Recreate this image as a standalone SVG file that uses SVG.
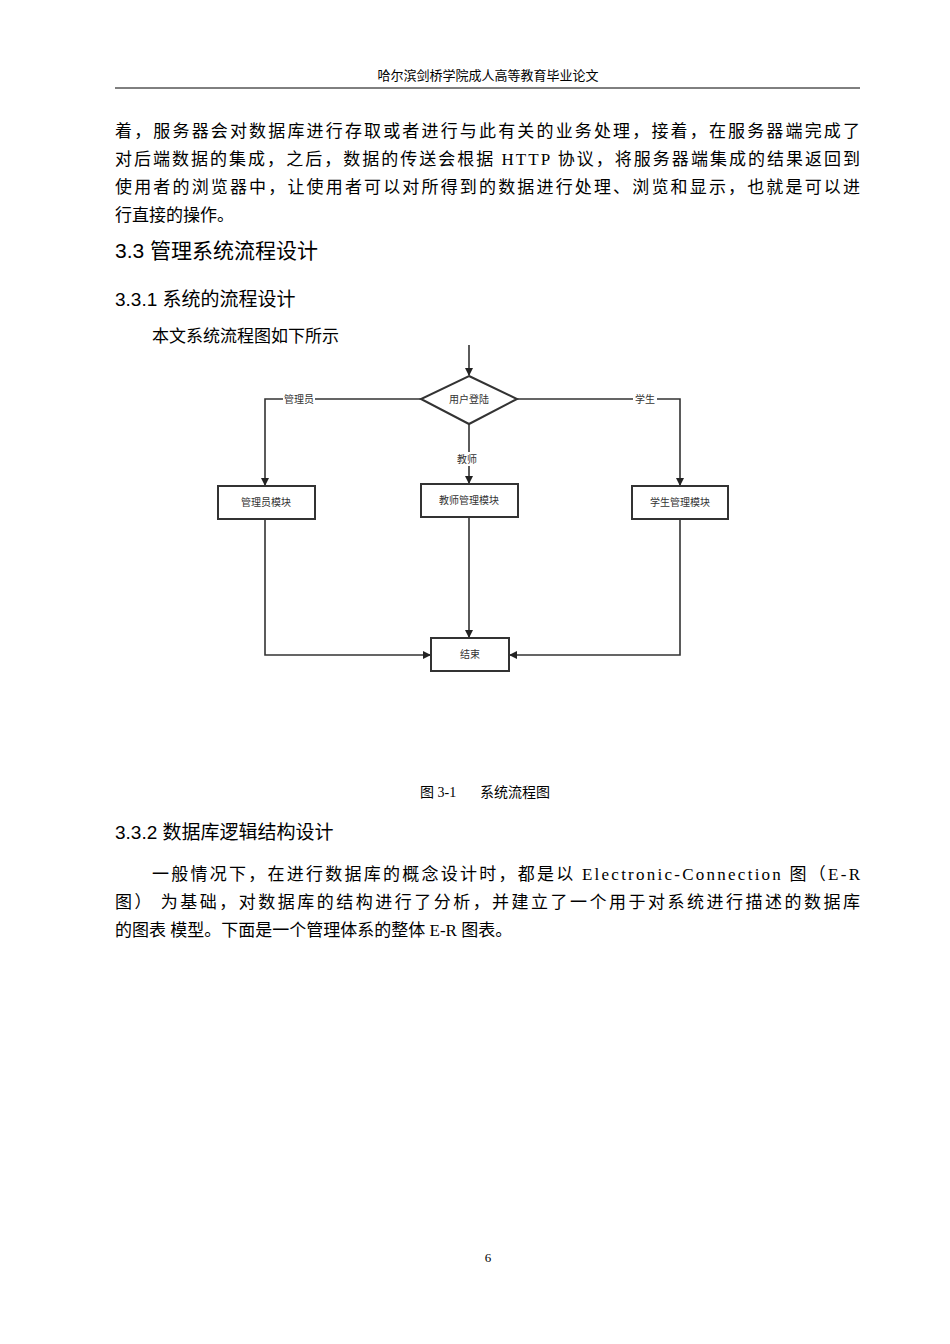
<svg xmlns="http://www.w3.org/2000/svg" width="950" height="1344" viewBox="0 0 950 1344">
<style>
.b{font-family:"Liberation Serif","Noto Sans CJK SC",serif;font-size:17px;fill:#000}
.h{font-family:"Liberation Sans","Noto Sans CJK SC",sans-serif;fill:#000}
.s{font-family:"Noto Sans CJK SC",sans-serif;font-size:10px;fill:#333}
.n{fill:#fff;stroke:#333;stroke-width:2}
.c{fill:none;stroke:#333;stroke-width:1.6}
</style>
<defs><marker id="a" markerWidth="8" markerHeight="8" refX="7" refY="4" orient="auto" markerUnits="userSpaceOnUse"><path d="M0,0 L8,4 L0,8 z" fill="#222"/></marker></defs>
<rect width="950" height="1344" fill="#fff"/>
<text class="b" x="488" y="80" text-anchor="middle" style="font-size:13px">哈尔滨剑桥学院成人高等教育毕业论文</text>
<line x1="115" y1="88" x2="860" y2="88" stroke="#000" stroke-width="1"/>
<text class="b" x="115" y="137" textLength="745" lengthAdjust="spacing">着，服务器会对数据库进行存取或者进行与此有关的业务处理，接着，在服务器端完成了</text>
<text class="b" x="115" y="165" textLength="745" lengthAdjust="spacing">对后端数据的集成，之后，数据的传送会根据 HTTP 协议，将服务器端集成的结果返回到</text>
<text class="b" x="115" y="193" textLength="745" lengthAdjust="spacing">使用者的浏览器中，让使用者可以对所得到的数据进行处理、浏览和显示，也就是可以进</text>
<text class="b" x="115" y="221">行直接的操作。</text>
<text class="h" x="115" y="258" style="font-size:21px">3.3 管理系统流程设计</text>
<text class="h" x="115" y="306" style="font-size:19px">3.3.1  系统的流程设计</text>
<text class="b" x="152" y="342">本文系统流程图如下所示</text>
<g id="connectors">
<line class="c" x1="469" y1="345" x2="469" y2="375" marker-end="url(#a)"/>
<polyline class="c" points="421,399 265,399 265,485" marker-end="url(#a)"/>
<polyline class="c" points="517,399 680,399 680,485" marker-end="url(#a)"/>
<line class="c" x1="469" y1="424" x2="469" y2="483" marker-end="url(#a)"/>
<polyline class="c" points="265,519 265,655 430,655" marker-end="url(#a)"/>
<polyline class="c" points="680,519 680,655 510,655" marker-end="url(#a)"/>
<line class="c" x1="469" y1="517" x2="469" y2="637" marker-end="url(#a)"/>
<rect x="283" y="392" width="32" height="14" fill="#fff"/><text class="s" x="299" y="403" text-anchor="middle">管理员</text>
<rect x="633" y="392" width="24" height="14" fill="#fff"/><text class="s" x="645" y="403" text-anchor="middle">学生</text>
<rect x="455" y="452" width="24" height="14" fill="#fff"/><text class="s" x="467" y="463" text-anchor="middle">教师</text>
</g>
<g id="login"><polygon class="n" points="469,376 517,399 469,424 421,399"/><text class="s" x="469" y="403" text-anchor="middle">用户登陆</text></g>
<g id="admin"><rect class="n" x="218" y="486" width="97" height="33"/><text class="s" x="266" y="506" text-anchor="middle">管理员模块</text></g>
<g id="teacher"><rect class="n" x="421" y="484" width="97" height="33"/><text class="s" x="469" y="504" text-anchor="middle">教师管理模块</text></g>
<g id="student"><rect class="n" x="632" y="486" width="96" height="33"/><text class="s" x="680" y="506" text-anchor="middle">学生管理模块</text></g>
<g id="end"><rect class="n" x="431" y="638" width="78" height="33"/><text class="s" x="470" y="658" text-anchor="middle">结束</text></g>
<text class="b" x="420" y="797" style="font-size:14px">图 3-1</text>
<text class="b" x="480" y="797" style="font-size:14px">系统流程图</text>
<text class="h" x="115" y="839" style="font-size:19px">3.3.2  数据库逻辑结构设计</text>
<text class="b" x="152" y="880" textLength="708" lengthAdjust="spacing">一般情况下，在进行数据库的概念设计时，都是以 Electronic-Connection 图（E-R</text>
<text class="b" x="115" y="908" textLength="745" lengthAdjust="spacing">图） 为基础，对数据库的结构进行了分析，并建立了一个用于对系统进行描述的数据库</text>
<text class="b" x="115" y="936">的图表 模型。下面是一个管理体系的整体 E-R 图表。</text>
<text class="b" x="488" y="1262" text-anchor="middle" style="font-size:13px">6</text>
</svg>
